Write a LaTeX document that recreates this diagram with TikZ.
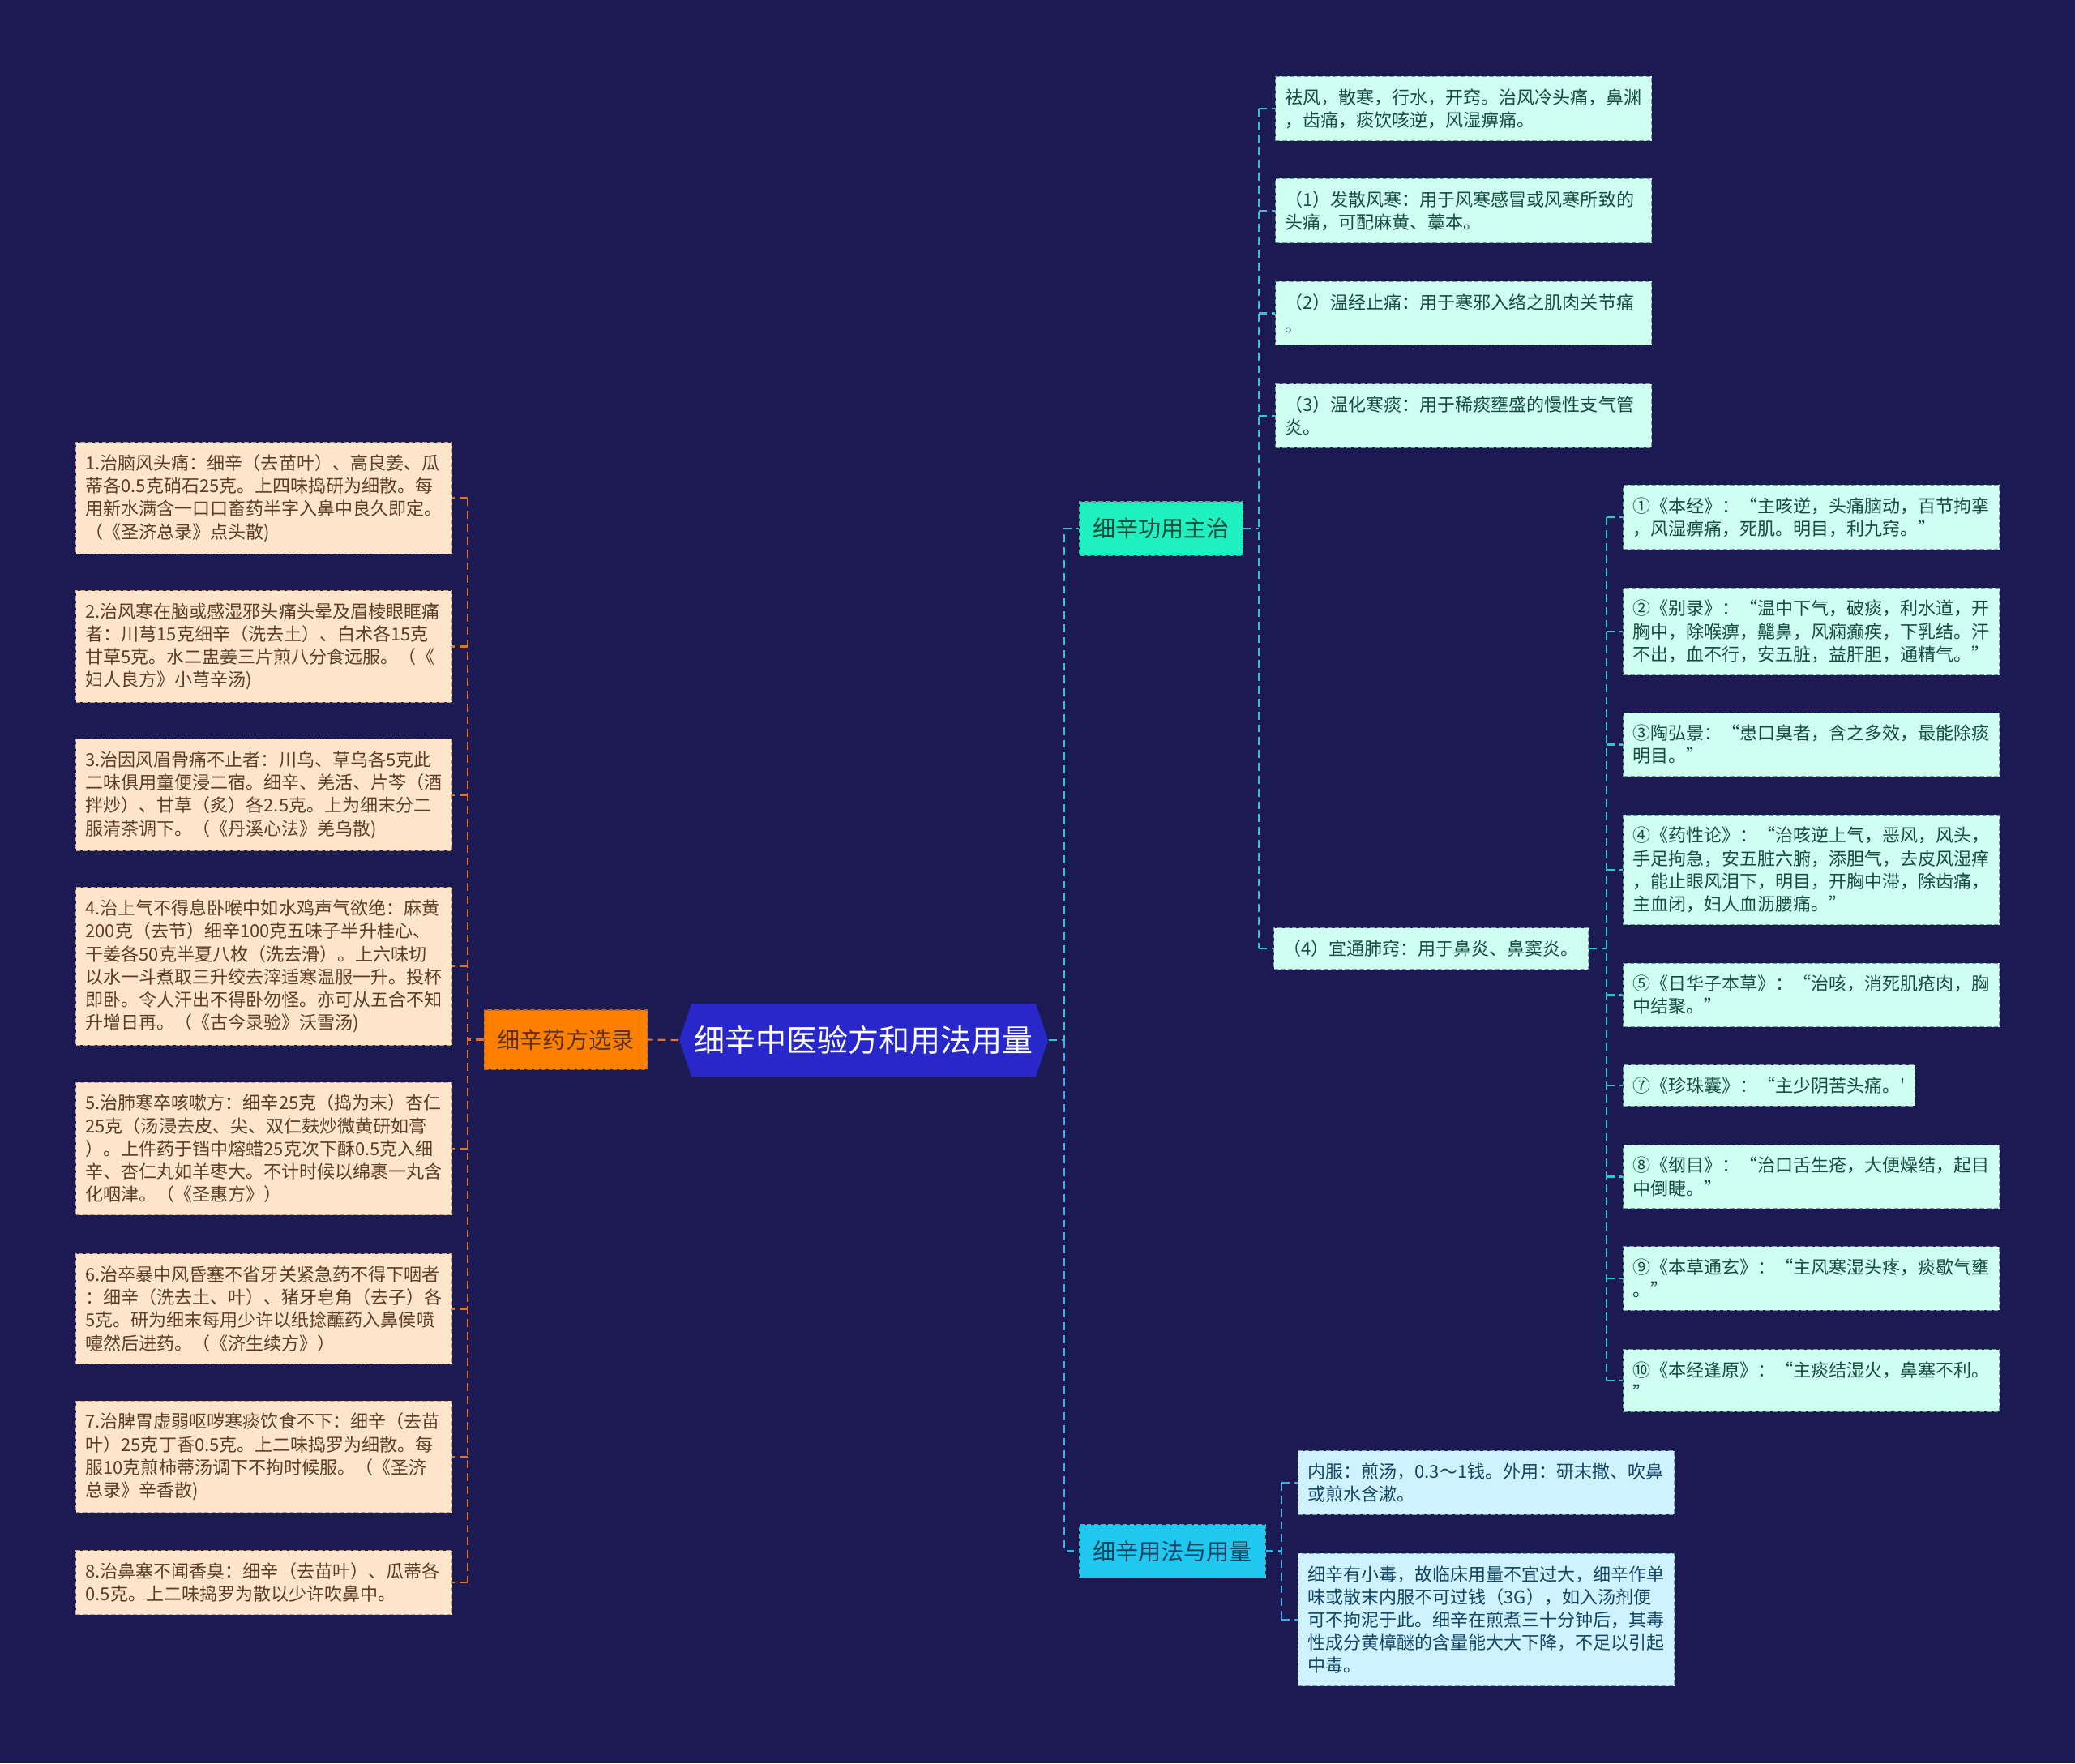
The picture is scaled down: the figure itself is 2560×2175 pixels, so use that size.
\documentclass[tikz,border=0pt]{standalone}
\usepackage{fontspec}
\setmainfont{Noto Sans CJK SC}
\newfontfamily\plainquote{Noto Sans CJK SC}

\definecolor{bgnavy}{RGB}{27,26,82}
\definecolor{rootblue}{RGB}{40,40,202}
\definecolor{recipeorange}{RGB}{255,128,0}
\definecolor{recipeedge}{RGB}{190,100,30}
\definecolor{recipetext}{RGB}{95,50,15}
\definecolor{recipefill}{RGB}{255,229,204}
\definecolor{recipeleafedge}{RGB}{205,160,120}
\definecolor{recipeleaftext}{RGB}{90,62,38}
\definecolor{recipeline}{RGB}{226,112,40}
\definecolor{effectgreen}{RGB}{30,240,192}
\definecolor{effecttext}{RGB}{22,78,62}
\definecolor{effectfill}{RGB}{206,255,240}
\definecolor{effectedge}{RGB}{120,160,150}
\definecolor{effectline}{RGB}{42,200,212}
\definecolor{usecyan}{RGB}{32,200,240}
\definecolor{usetext}{RGB}{20,70,100}
\definecolor{usefill}{RGB}{206,243,255}
\definecolor{useedge}{RGB}{120,160,180}
\definecolor{useline}{RGB}{52,180,232}

\begin{document}
\begin{tikzpicture}[x=0.01cm, y=-0.01cm,
  leaffont/.style={font=\fontsize{6.26pt}{8.02pt}\selectfont},
  leafbox/.style={rectangle, align=left, anchor=west, inner xsep=0.12cm,
    inner ysep=0.15cm, line width=0.3pt, dash pattern=on 1.6pt off 0.9pt, leaffont},
  widebox/.style={leafbox, text width=4.40cm},
  recipebox/.style={widebox, fill=recipefill, draw=recipeleafedge, text=recipeleaftext},
  effectbox/.style={widebox, fill=effectfill, draw=effectedge, text=effecttext},
  effectline1/.style={leafbox, fill=effectfill, draw=effectedge, text=effecttext},
  usebox/.style={widebox, fill=usefill, draw=useedge, text=usetext},
  branchbox/.style={rectangle, inner xsep=0.165cm, minimum height=0.66cm,
    line width=0.3pt, dash pattern=on 1.6pt off 0.9pt,
    font=\fontsize{7.97pt}{9pt}\selectfont},
  linkline/.style={line width=0.6pt, dash pattern=on 2.8pt off 1.7pt},
]

% --- CANVAS ---
\fill[bgnavy] (0,0) rectangle (2560,2175);
\useasboundingbox (0,0) rectangle (2560,2175);

% --- ROOT ---
\fill[rootblue] (838,1283) -- (853,1238) -- (1278,1238) -- (1293,1283)
  -- (1278,1328) -- (853,1328) -- cycle;
\node[minimum width=4.55cm, minimum height=0.9cm, text=white,
  font=\fontsize{10.8pt}{12pt}\selectfont] (root) at (1065.5,1283) {细辛中医验方和用法用量};

% --- BRANCHES ---
\node[branchbox, fill=recipeorange, draw=recipeedge, text=recipetext, minimum height=0.73cm]
  (recipe) at (698,1282.5) {细辛药方选录};
\node[branchbox, fill=effectgreen, draw=effectedge, text=effecttext]
  (effect) at (1432.5,652) {细辛功用主治};
\node[branchbox, fill=usecyan, draw=useedge, text=usetext]
  (usage) at (1446.5,1913.5) {细辛用法与用量};

% --- RECIPES (left) ---
\node[recipebox] (L1) at (93,614.5) {1.治脑风头痛：细辛（去苗叶）、高良姜、瓜\\蒂各0.5克硝石25克。上四味捣研为细散。每\\用新水满含一口口畜药半字入鼻中良久即定。\\（《圣济总录》点头散)};
\node[recipebox] (L2) at (93,797.5) {2.治风寒在脑或感湿邪头痛头晕及眉棱眼眶痛\\者：川芎15克细辛（洗去土）、白术各15克\\甘草5克。水二盅姜三片煎八分食远服。（《\\妇人良方》小芎辛汤)};
\node[recipebox] (L3) at (93,980.5) {3.治因风眉骨痛不止者：川乌、草乌各5克此\\二味俱用童便浸二宿。细辛、羌活、片芩（酒\\拌炒）、甘草（炙）各2.5克。上为细末分二\\服清茶调下。（《丹溪心法》羌乌散)};
\node[recipebox] (L4) at (93,1192) {4.治上气不得息卧喉中如水鸡声气欲绝：麻黄\\200克（去节）细辛100克五味子半升桂心、\\干姜各50克半夏八枚（洗去滑）。上六味切\\以水一斗煮取三升绞去滓适寒温服一升。投杯\\即卧。令人汗出不得卧勿怪。亦可从五合不知\\升增日再。（《古今录验》沃雪汤)};
\node[recipebox] (L5) at (93,1417) {5.治肺寒卒咳嗽方：细辛25克（捣为末）杏仁\\25克（汤浸去皮、尖、双仁麸炒微黄研如膏\\）。上件药于铛中熔蜡25克次下酥0.5克入细\\辛、杏仁丸如羊枣大。不计时候以绵裹一丸含\\化咽津。（《圣惠方》）};
\node[recipebox] (L6) at (93,1614.5) {6.治卒暴中风昏塞不省牙关紧急药不得下咽者\\：细辛（洗去土、叶）、猪牙皂角（去子）各\\5克。研为细末每用少许以纸捻蘸药入鼻侯喷\\嚏然后进药。（《济生续方》）};
\node[recipebox] (L7) at (93,1797) {7.治脾胃虚弱呕哕寒痰饮食不下：细辛（去苗\\叶）25克丁香0.5克。上二味捣罗为细散。每\\服10克煎柿蒂汤调下不拘时候服。（《圣济\\总录》辛香散)};
\node[recipebox] (L8) at (93,1952) {8.治鼻塞不闻香臭：细辛（去苗叶）、瓜蒂各\\0.5克。上二味捣罗为散以少许吹鼻中。};

% --- EFFECTS (right, top) ---
\node[effectbox] (E1) at (1573,134) {祛风，散寒，行水，开窍。治风冷头痛，鼻渊\\，齿痛，痰饮咳逆，风湿痹痛。};
\node[effectbox] (E2) at (1573,260) {（1）发散风寒：用于风寒感冒或风寒所致的\\头痛，可配麻黄、藁本。};
\node[effectbox] (E3) at (1573,386.5) {（2）温经止痛：用于寒邪入络之肌肉关节痛\\。};
\node[effectbox] (E4) at (1573,513) {（3）温化寒痰：用于稀痰壅盛的慢性支气管\\炎。};
\node[effectline1] (E5) at (1571,1170) {（4）宜通肺窍：用于鼻炎、鼻窦炎。};

% --- SOURCES (right, far) ---
\node[effectbox] (S1) at (2002,638) {①《本经》：“主咳逆，头痛脑动，百节拘挛\\，风湿痹痛，死肌。明目，利九窍。”};
\node[effectbox] (S2) at (2002,779) {②《别录》：“温中下气，破痰，利水道，开\\胸中，除喉痹，齆鼻，风痫癫疾，下乳结。汗\\不出，血不行，安五脏，益肝胆，通精气。”};
\node[effectbox] (S3) at (2002,918.5) {③陶弘景：“患口臭者，含之多效，最能除痰\\明目。”};
\node[effectbox] (S4) at (2002,1073) {④《药性论》：“治咳逆上气，恶风，风头，\\手足拘急，安五脏六腑，添胆气，去皮风湿痒\\，能止眼风泪下，明目，开胸中滞，除齿痛，\\主血闭，妇人血沥腰痛。”};
\node[effectbox] (S5) at (2002,1227.5) {⑤《日华子本草》：“治咳，消死肌疮肉，胸\\中结聚。”};
\node[effectline1] (S6) at (2002,1339) {⑦《珍珠囊》：“主少阴苦头痛。{\plainquote '}};
\node[effectbox] (S7) at (2002,1451.5) {⑧《纲目》：“治口舌生疮，大便燥结，起目\\中倒睫。”};
\node[effectbox] (S8) at (2002,1577) {⑨《本草通玄》：“主风寒湿头疼，痰歇气壅\\。”};
\node[effectbox] (S9) at (2002,1703) {⑩《本经逢原》：“主痰结湿火，鼻塞不利。\\”};

% --- USAGE (right, bottom) ---
\node[usebox] (U1) at (1601,1829) {内服：煎汤，0.3～1钱。外用：研末撒、吹鼻\\或煎水含漱。};
\node[usebox] (U2) at (1601,1998) {细辛有小毒，故临床用量不宜过大，细辛作单\\味或散末内服不可过钱（3G），如入汤剂便\\可不拘泥于此。细辛在煎煮三十分钟后，其毒\\性成分黄樟醚的含量能大大下降，不足以引起\\中毒。};

% --- SPINES ---
\coordinate (lspine) at (577,0);
\coordinate (rspine) at (1313,0);
\coordinate (espine) at (1553,0);
\coordinate (sspine) at (1982,0);
\coordinate (uspine) at (1581,0);

% --- CONNECTORS ---
\draw[linkline, recipeline] (root.west) -- (recipe.east);
\draw[linkline, recipeline] (recipe.west) -- (recipe.west -| lspine);
\draw[linkline, recipeline] (L1.east -| lspine) -- (L8.east -| lspine);
\foreach \i in {1,...,8} {
  \draw[linkline, recipeline] (lspine |- L\i.east) -- (L\i.east);
}

\draw[linkline, effectline] (root.east) -- (root.east -| rspine)
  -- (rspine |- effect.west) -- (effect.west);
\draw[linkline, useline] (root.east -| rspine) -- (rspine |- usage.west) -- (usage.west);

\draw[linkline, effectline] (effect.east) -- (effect.east -| espine);
\draw[linkline, effectline] (E1.west -| espine) -- (E5.west -| espine);
\foreach \i in {1,...,5} {
  \draw[linkline, effectline] (espine |- E\i.west) -- (E\i.west);
}

\draw[linkline, effectline] (E5.east) -- (E5.east -| sspine);
\draw[linkline, effectline] (S1.west -| sspine) -- (S9.west -| sspine);
\foreach \i in {1,...,9} {
  \draw[linkline, effectline] (sspine |- S\i.west) -- (S\i.west);
}

\draw[linkline, useline] (usage.east) -- (usage.east -| uspine);
\draw[linkline, useline] (U1.west -| uspine) -- (U2.west -| uspine);
\foreach \i in {1,2} {
  \draw[linkline, useline] (uspine |- U\i.west) -- (U\i.west);
}

\end{tikzpicture}
\end{document}
